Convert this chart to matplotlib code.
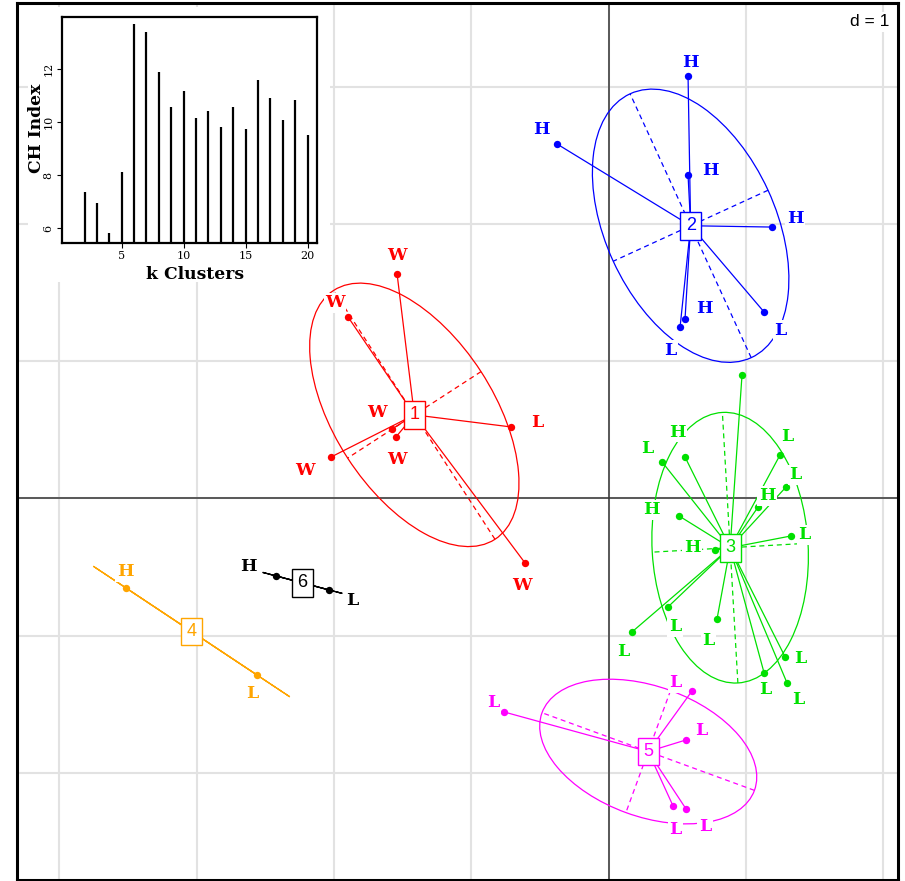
import numpy as np
import matplotlib.pyplot as plt
from matplotlib.patches import Ellipse, Rectangle

# cluster members on the first two axes (d = 1 grid)
c1_x = [-1.540, -1.897, -1.577, -1.548, -2.021, -0.710, -0.608]
c1_y = [1.635, 1.322, 0.506, 0.448, 0.302, 0.521, -0.470]
c1_lab = ["W", "W", "W", "W", "W", "L", "W"]

c2_x = [0.579, -0.375, 0.579, 1.191, 0.557, 0.521, 1.133]
c2_y = [3.077, 2.582, 2.356, 1.977, 1.307, 1.249, 1.358]
c2_lab = ["H", "H", "H", "H", "H", "L", "L"]

c3_x = [0.972, 0.390, 0.557, 1.249, 1.293, 1.089, 0.513, 1.329,
        0.776, 0.433, 0.171, 0.790, 1.286, 1.133, 1.300]
c3_y = [0.899, 0.266, 0.302, 0.317, 0.084, -0.062, -0.127, -0.273,
        -0.375, -0.790, -0.972, -0.878, -1.154, -1.271, -1.344]
c3_lab = ["", "L", "H", "L", "L", "H", "H", "L", "H", "L", "L", "L", "L", "L", "L"]

c4_x = [-3.514, -2.560]
c4_y = [-0.652, -1.286]
c4_lab = ["H", "L"]

c5_x = [-0.761, 0.608, 0.564, 0.470, 0.564]
c5_y = [-1.555, -1.402, -1.759, -2.240, -2.261]
c5_lab = ["L", "L", "L", "L", "L"]

c6_x = [-2.422, -2.036]
c6_y = [-0.564, -0.666]
c6_lab = ["H", "L"]

# Calinski-Harabasz index by number of clusters
k_clusters = list(range(2, 21))
ch_index = [7.36, 6.95, 5.82, 8.12, 13.70, 13.42, 11.89, 10.59, 11.19, 10.17,
            10.44, 9.81, 10.57, 9.74, 11.61, 10.92, 10.08, 10.85, 9.53]

# label offsets (pixels) for each point
c1_off = [(0, 19), (-13, 14), (-15, 17), (1, -23), (-26, -13), (26, 4), (-3, -22)]
c2_off = [(2, 14), (-16, 14), (22, 5), (23, 9), (19, 11), (-10, -23), (16, -18)]
c3_off = [(0, 0), (-15, 13), (-8, 25), (7, 18), (9, 12), (9, 11), (-28, 6), (13, 1),
          (-23, 2), (7, -20), (-9, -20), (-9, -21), (15, -2), (1, -17), (11, -17)]
c4_off = [(-1, 16), (-5, -18)]
c5_off = [(-11, 9), (-17, 8), (15, 9), (2, -23), (19, -18)]
c6_off = [(-28, 9), (23, -11)]

colors = ["#ff0000", "#0000ff", "#00e000", "#ffa500", "#ff00ff", "#000000"]
clusters = [
    (c1_x, c1_y, c1_lab, c1_off),
    (c2_x, c2_y, c2_lab, c2_off),
    (c3_x, c3_y, c3_lab, c3_off),
    (c4_x, c4_y, c4_lab, c4_off),
    (c5_x, c5_y, c5_lab, c5_off),
    (c6_x, c6_y, c6_lab, c6_off),
]
CELLIPSE = 1.5

fig = plt.figure(figsize=(9.05, 8.81), dpi=100)
ax = fig.add_axes([17 / 905, 1 / 881, 881 / 905, 877 / 881])
ax.set_xlim(-4.308, 2.108)
ax.set_ylim(-2.779, 3.609)
ax.set_xticks(range(-4, 3))
ax.set_yticks(range(-2, 4))
ax.tick_params(length=0, labelbottom=False, labelleft=False)
ax.grid(True, color="#e2e2e2", lw=1.5, zorder=0)
ax.set_axisbelow(True)
for s in ax.spines.values():
    s.set_linewidth(2.2)
    s.set_color("black")
ax.axhline(0, color="#333333", lw=1.1, zorder=1)
ax.axvline(0, color="#333333", lw=1.1, zorder=1)

txt_font = dict(family="DejaVu Serif", weight="bold", size=12.5)

for i, (xs, ys, labs, offs) in enumerate(clusters):
    col = colors[i]
    xs = np.asarray(xs)
    ys = np.asarray(ys)
    cx, cy = xs.mean(), ys.mean()

    # covariance ellipse with its two axes
    cov = np.cov(np.vstack([xs, ys]), bias=True)
    vals, vecs = np.linalg.eigh(cov)
    vals = np.clip(vals, 0, None)
    half = CELLIPSE * np.sqrt(vals)
    angle = np.degrees(np.arctan2(vecs[1, 1], vecs[0, 1]))
    ax.add_patch(Ellipse((cx, cy), 2 * half[1], 2 * half[0], angle=angle,
                         fill=False, ec=col, lw=0.9, zorder=2))
    for j in range(2):
        if half[j] > 1e-9:
            dx, dy = vecs[0, j] * half[j], vecs[1, j] * half[j]
            ax.plot([cx - dx, cx + dx], [cy - dy, cy + dy], color=col,
                    lw=0.9, ls=(0, (4, 3)), zorder=2)

    # star from the centre to each member
    for px, py in zip(xs, ys):
        ax.plot([cx, px], [cy, py], color=col, lw=0.9, zorder=3)
    ax.scatter(xs, ys, s=28, color=col, zorder=4, linewidths=0)

    for px, py, lab, off in zip(xs, ys, labs, offs):
        if lab:
            ax.annotate(lab, (px, py), xytext=off, textcoords="offset pixels",
                        ha="center", va="center", color=col, zorder=5,
                        bbox=dict(boxstyle="square,pad=0.08", fc="white", ec="none"),
                        **txt_font)

    ax.text(cx, cy, str(i + 1), ha="center", va="center", color=col,
            family="Liberation Sans", size=13, zorder=6,
            bbox=dict(boxstyle="square,pad=0.3", fc="white", ec=col, lw=1.0))

ax.text(0.9905, 0.987, "d = 1", transform=ax.transAxes, ha="right", va="top",
        family="Liberation Sans", size=12.5, zorder=7,
        bbox=dict(boxstyle="square,pad=0.15", fc="white", ec="none"))

# white panel under the inset
ax.add_patch(Rectangle((28 / 905, 1 - 282 / 881), 302 / 905, 275 / 881,
                       transform=fig.transFigure, fc="white", ec="none",
                       zorder=8, clip_on=False))

ins = fig.add_axes([61.7 / 905, 1 - 243 / 881, 255 / 905, 226.3 / 881])
ins.vlines(k_clusters, 0, ch_index, color="black", lw=1.6)
ins.set_xlim(0.16, 20.73)
ins.set_ylim(5.45, 13.98)
ins.set_xticks([5, 10, 15, 20])
ins.set_yticks([6, 8, 10, 12])
ins.tick_params(direction="out", length=3.5, width=0.8, pad=2.5)
for lbl in ins.get_xticklabels() + ins.get_yticklabels():
    lbl.set_family("DejaVu Serif")
    lbl.set_size(8)
for lbl in ins.get_yticklabels():
    lbl.set_rotation(90)
    lbl.set_va("center")
for s in ins.spines.values():
    s.set_linewidth(1.6)
ins.text(0.523, -0.141, "k Clusters", transform=ins.transAxes, ha="center",
         va="center", family="DejaVu Serif", weight="bold", size=12.3)
ins.text(-0.098, 0.508, "CH Index", transform=ins.transAxes, ha="center",
         va="center", rotation=90, family="DejaVu Serif", weight="bold", size=12.3)

fig.savefig("out.png", dpi=100)
